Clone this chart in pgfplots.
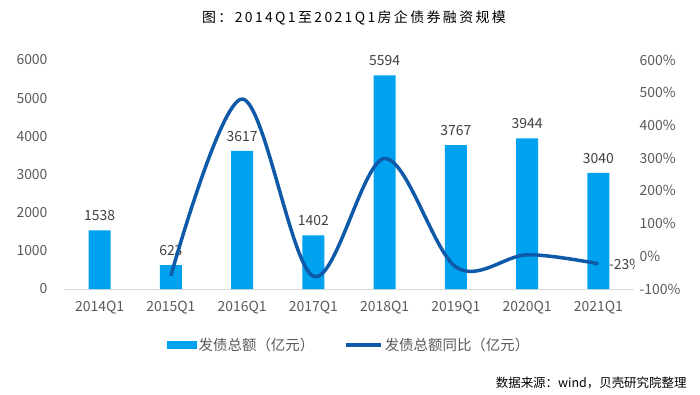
\documentclass[border=0pt]{standalone}
\usepackage{pgfplots}
\pgfplotsset{compat=1.18}
\usepackage{fontspec}
\setmainfont{Noto Sans CJK SC}
\newfontfamily\titlefont[LetterSpace=17]{Noto Sans CJK SC}
\definecolor{barblue}{HTML}{00A2F0}
\definecolor{lineblue}{HTML}{0E5AA8}
\definecolor{tickgray}{HTML}{595959}
\definecolor{labgray}{HTML}{404040}
\definecolor{axgray}{HTML}{D9D9D9}
\begin{document}
\begin{tikzpicture}[x=1bp,y=1bp]
\path (0,0) rectangle (700,394);
\node at (354,376) {\titlefont\fontsize{14}{16}\selectfont 图：2014Q1至2021Q1房企债券融资规模};
\node[anchor=east] at (690,11) {\fontsize{12.5}{15}\selectfont 数据来源：wind，贝壳研究院整理};
\begin{axis}[at={(64bp,105bp)}, anchor=south west, scale only axis,
  width=570bp, height=229bp,
  xmin=-0.5, xmax=7.5, ymin=0, ymax=6000,
  axis x line*=bottom, axis y line*=left,
  y axis line style={draw=none},
  x axis line style={draw=axgray, line width=1bp, -},
  tick style={draw=none},
  xtick={0,...,7},
  xticklabels={2014Q1,2015Q1,2016Q1,2017Q1,2018Q1,2019Q1,2020Q1,2021Q1},
  ytick={0,1000,...,6000},
  scaled y ticks=false,
  /pgf/number format/assume math mode=true,
  /pgf/number format/1000 sep={},
  ticklabel style={font=\fontsize{14}{16}\selectfont, text=tickgray},
  yticklabel style={xshift=-13bp},
  xticklabel style={yshift=-9bp},
]
\addplot[ybar, bar width=22bp, fill=barblue, draw=none,
  nodes near coords,
  nodes near coords style={font=\fontsize{14}{16}\selectfont, text=labgray, yshift=6bp}]
  coordinates {(0,1538) (1,623) (2,3617) (3,1402) (4,5594) (5,3767) (6,3944) (7,3040)};
\end{axis}
\begin{axis}[at={(64bp,105bp)}, anchor=south west, scale only axis,
  width=570bp, height=229bp,
  xmin=-0.5, xmax=7.5, ymin=-100, ymax=600,
  axis x line=none, axis y line*=right,
  y axis line style={draw=none},
  tick style={draw=none},
  ytick={-100,0,...,600},
  yticklabel={\pgfmathprintnumber{\tick}\%},
  /pgf/number format/assume math mode=true,
  ticklabel style={font=\fontsize{14}{16}\selectfont, text=tickgray},
  yticklabel style={xshift=2bp},
  legend style={at={(0.5,-0.245)}, anchor=center, legend columns=2, draw=none,
    font=\fontsize{14.5}{16}\selectfont, text=tickgray,
    /tikz/every even column/.append style={column sep=28bp}},
  legend cell align=left,
]
\addlegendimage{area legend, fill=barblue, draw=none,
  legend image code/.code={\fill[barblue] (0bp,-4bp) rectangle (30bp,4bp);}}
\addlegendentry{发债总额（亿元）}
\addplot[lineblue, line width=3.5bp, smooth, tension=0.55,
  legend image code/.code={\draw[lineblue, line width=3.5bp] (0bp,0bp) -- (35bp,0bp);}]
  coordinates {(1,-59.5) (2,480.6) (3,-61.2) (4,299.0) (5,-32.7) (6,4.7) (7,-22.9)};
\addlegendentry{发债总额同比（亿元）}
\node[anchor=west, font=\fontsize{14}{16}\selectfont, text=labgray] at (axis cs:7.1,-25) {-23\%};
\end{axis}
\end{tikzpicture}
\end{document}
